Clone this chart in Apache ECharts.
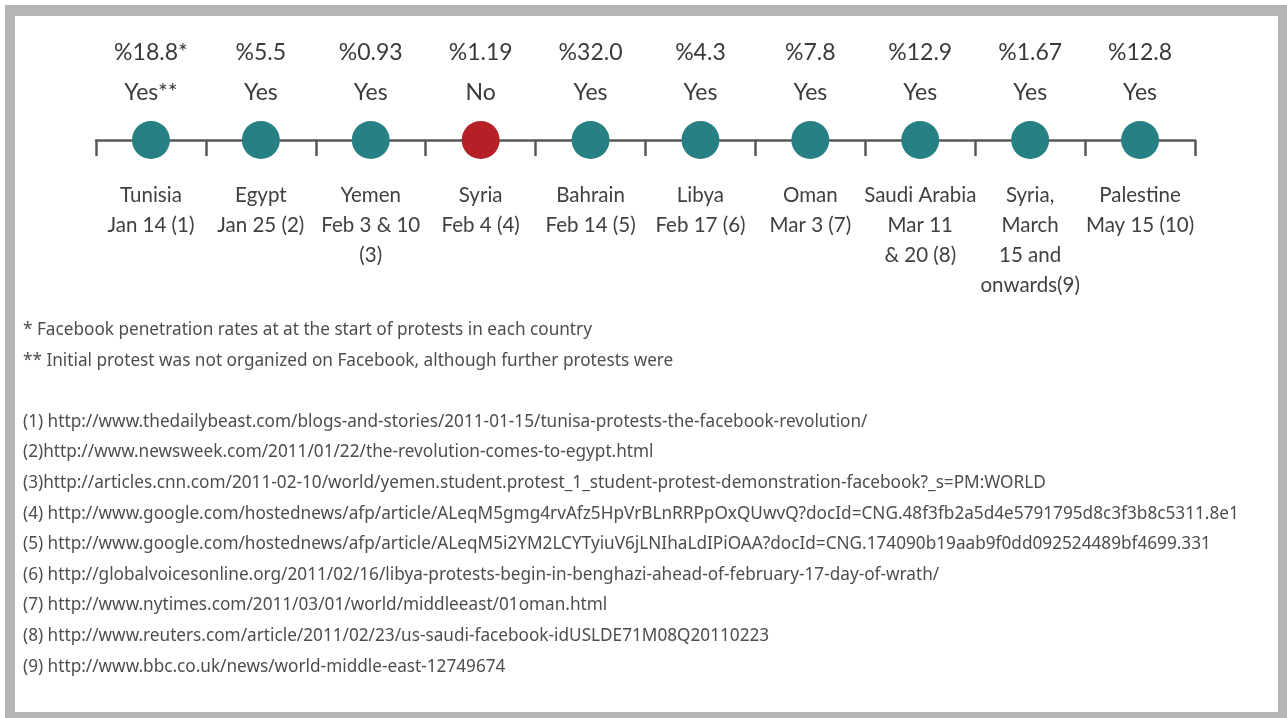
<!DOCTYPE html>
<html>
<head>
<meta charset="utf-8">
<script src="https://cdn.jsdelivr.net/npm/echarts@6/dist/echarts.min.js"></script>
<style>
html,body{margin:0;padding:0;background:#ffffff;}
#chart{width:1287px;height:718px;}
</style>
</head>
<body>
<div id="chart"></div>
<script>
// ---- data ----
const countries = ['Tunisia', 'Egypt', 'Yemen', 'Syria', 'Bahrain', 'Libya', 'Oman', 'Saudi Arabia', 'Syria,', 'Palestine'];
const dates = ['Jan 14 (1)', 'Jan 25 (2)', 'Feb 3 & 10\n(3)', 'Feb 4 (4)', 'Feb 14 (5)', 'Feb 17 (6)', 'Mar 3 (7)', 'Mar 11\n& 20 (8)', 'March\n15 and\nonwards(9)', 'May 15 (10)'];
const rates = [18.8, 5.5, 0.93, 1.19, 32.0, 4.3, 7.8, 12.9, 1.67, 12.8];
const rateLabels = ['%18.8*', '%5.5', '%0.93', '%1.19', '%32.0', '%4.3', '%7.8', '%12.9', '%1.67', '%12.8'];
const organized = ['Yes**', 'Yes', 'Yes', 'No', 'Yes', 'Yes', 'Yes', 'Yes', 'Yes', 'Yes'];
const notes = [
  '* Facebook penetration rates at at the start of protests in each country',
  '** Initial protest was not organized on Facebook, although further protests were'
];
const sources = [
  '(1) http://www.thedailybeast.com/blogs-and-stories/2011-01-15/tunisa-protests-the-facebook-revolution/',
  '(2)http://www.newsweek.com/2011/01/22/the-revolution-comes-to-egypt.html',
  '(3)http://articles.cnn.com/2011-02-10/world/yemen.student.protest_1_student-protest-demonstration-facebook?_s=PM:WORLD',
  '(4) http://www.google.com/hostednews/afp/article/ALeqM5gmg4rvAfz5HpVrBLnRRPpOxQUwvQ?docId=CNG.48f3fb2a5d4e5791795d8c3f3b8c5311.8e1',
  '(5) http://www.google.com/hostednews/afp/article/ALeqM5i2YM2LCYTyiuV6jLNIhaLdIPiOAA?docId=CNG.174090b19aab9f0dd092524489bf4699.331',
  '(6) http://globalvoicesonline.org/2011/02/16/libya-protests-begin-in-benghazi-ahead-of-february-17-day-of-wrath/',
  '(7) http://www.nytimes.com/2011/03/01/world/middleeast/01oman.html',
  '(8) http://www.reuters.com/article/2011/02/23/us-saudi-facebook-idUSLDE71M08Q20110223',
  '(9) http://www.bbc.co.uk/news/world-middle-east-12749674'
];

// ---- chart ----
const chart = echarts.init(document.getElementById('chart'));
const TEAL = '#278083';
const RED = '#b52026';
const footFont = '17.2px "Noto Sans", sans-serif';

const graphics = [
  { type: 'rect', z: -10, silent: true, shape: { x: 5, y: 5, width: 1282, height: 713 }, style: { fill: '#b4b5b4' } },
  { type: 'rect', z: -9, silent: true, shape: { x: 15, y: 16, width: 1263, height: 696 }, style: { fill: '#ffffff' } }
];
notes.forEach((t, i) => {
  graphics.push({ type: 'text', z: 5, silent: true, style: { text: t, x: 23, y: 330 + i * 31, verticalAlign: 'middle', font: footFont, fill: '#4d4d4d' } });
});
sources.forEach((t, i) => {
  graphics.push({ type: 'text', z: 5, silent: true, style: { text: t, x: 23, y: 422 + i * 30.6, verticalAlign: 'middle', font: footFont, fill: '#4d4d4d' } });
});

chart.setOption({
  animation: false,
  backgroundColor: '#ffffff',
  graphic: graphics,
  grid: { left: 96, right: 92, top: 40, bottom: 578, containLabel: false },
  xAxis: {
    type: 'category',
    data: countries,
    boundaryGap: true,
    axisLine: { show: true, lineStyle: { color: '#58585a', width: 2.5 } },
    axisTick: { show: true, length: 16, interval: 0, alignWithLabel: false, lineStyle: { color: '#58585a', width: 2.5 } },
    splitLine: { show: false },
    axisLabel: {
      interval: 0,
      margin: 40,
      lineHeight: 30,
      fontSize: 20.5,
      fontFamily: 'Lato, "Open Sans", sans-serif',
      color: '#404040',
      formatter: (v, i) => v + '\n' + dates[i]
    }
  },
  yAxis: { type: 'value', min: 0, max: 1, show: false },
  series: [{
    type: 'scatter',
    clip: false,
    symbol: 'circle',
    symbolSize: 38,
    data: rates.map((r, i) => ({
      value: [i, 0, r],
      itemStyle: { color: organized[i] === 'No' ? RED : TEAL, opacity: 1 }
    })),
    itemStyle: { opacity: 1 },
    label: {
      show: true,
      position: 'top',
      distance: 8,
      lineHeight: 40,
      fontSize: 23,
      fontFamily: 'Lato, "Open Sans", sans-serif',
      color: '#3a3a3a',
      formatter: (p) => rateLabels[p.dataIndex] + '\n' + organized[p.dataIndex]
    },
    emphasis: { disabled: true }
  }]
});
</script>
</body>
</html>
